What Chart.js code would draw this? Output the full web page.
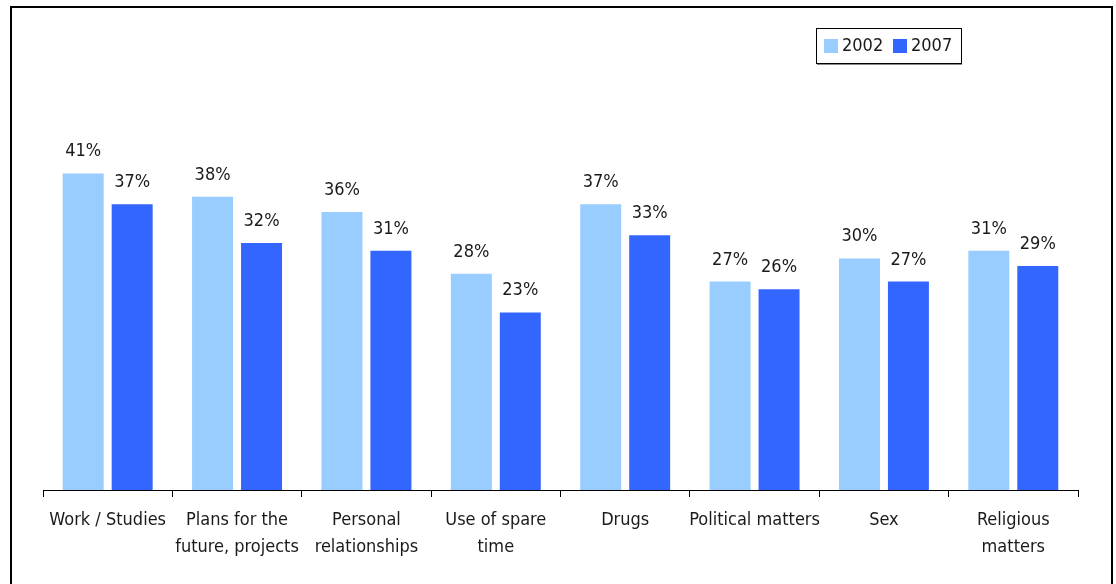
<!DOCTYPE html>
<html>
<head>
<meta charset="utf-8">
<script src="https://cdn.jsdelivr.net/npm/chart.js@4/dist/chart.umd.min.js"></script>
<style>
  html, body { margin: 0; padding: 0; background: #fff; overflow: hidden; }
  #wrap { position: relative; width: 1116px; height: 584px; }
  #frame {
    position: absolute; left: 10px; top: 6px;
    width: 1099px; height: 700px;
    border: 2px solid #000; box-sizing: content-box;
    pointer-events: none;
  }
  canvas { position: absolute; left: 0; top: 0; }
</style>
</head>
<body>
<div id="wrap">
  <canvas id="topicsChart" width="1116" height="584"></canvas>
  <div id="frame"></div>
</div>
<script>
// Topics, one entry per category (lines of the axis label)
const categories = [
    ['Work / Studies'],
    ['Plans for the', 'future, projects'],
    ['Personal', 'relationships'],
    ['Use of spare', 'time'],
    ['Drugs'],
    ['Political matters'],
    ['Sex'],
    ['Religious', 'matters']
];
const years = ['2002', '2007'];
const values2002 = [41, 38, 36, 28, 37, 27, 30, 31];
const values2007 = [37, 32, 31, 23, 33, 26, 27, 29];

const FONT = '"Liberation Sans Narrow", "DejaVu Sans Condensed", "Liberation Sans", sans-serif';
const TEXT = '#1a1a1a';

// percentage labels above each bar
const valueLabels = {
    id: 'valueLabels',
    afterDatasetsDraw(chart) {
        const ctx = chart.ctx;
        ctx.save();
        ctx.font = '18px ' + FONT;
        ctx.fillStyle = TEXT;
        ctx.textAlign = 'center';
        ctx.textBaseline = 'alphabetic';
        chart.data.datasets.forEach((ds, i) => {
            chart.getDatasetMeta(i).data.forEach((bar, j) => {
                ctx.fillText(ds.data[j] + '%', bar.x, bar.y - 17);
            });
        });
        ctx.restore();
    }
};

// boxed legend in the upper right
const boxedLegend = {
    id: 'boxedLegend',
    afterDraw(chart) {
        const ctx = chart.ctx;
        const x0 = 816, y0 = 28, w = 145, h = 35;
        ctx.save();
        ctx.fillStyle = '#fff';
        ctx.fillRect(x0, y0, w, h);
        ctx.strokeStyle = '#000';
        ctx.lineWidth = 1;
        ctx.strokeRect(x0 + 0.5, y0 + 0.5, w, h);
        ctx.strokeStyle = '#888';
        ctx.beginPath();
        ctx.moveTo(x0 + 1, y0 + h + 1.5);
        ctx.lineTo(x0 + w + 1, y0 + h + 1.5);
        ctx.stroke();
        ctx.font = '18px ' + FONT;
        ctx.textBaseline = 'middle';
        ctx.textAlign = 'left';
        let x = x0 + 8;
        chart.data.datasets.forEach(ds => {
            ctx.fillStyle = ds.backgroundColor;
            ctx.fillRect(x, y0 + 11, 14, 14);
            ctx.fillStyle = TEXT;
            ctx.fillText(ds.label, x + 18, y0 + 18);
            x += 69;
        });
        ctx.restore();
    }
};

new Chart(document.getElementById('topicsChart'), {
    type: 'bar',
    data: {
        labels: categories,
        datasets: [
            { label: years[0], data: values2002, backgroundColor: '#99CCFF' },
            { label: years[1], data: values2007, backgroundColor: '#3366FF' }
        ]
    },
    options: {
        responsive: false,
        animation: false,
        layout: { padding: { top: 104, left: 43, right: 38, bottom: 0 } },
        datasets: {
            bar: { categoryPercentage: 0.757, barPercentage: 0.837 }
        },
        plugins: {
            legend: { display: false },
            tooltip: { enabled: false }
        },
        scales: {
            x: {
                border: { display: true, color: '#000', width: 1 },
                grid: {
                    offset: true,
                    drawOnChartArea: false,
                    drawTicks: true,
                    tickLength: 7,
                    color: '#000'
                },
                ticks: {
                    color: TEXT,
                    font: { family: FONT, size: 18, lineHeight: 1.5 },
                    padding: 10,
                    maxRotation: 0,
                    autoSkip: false
                },
                afterFit(scale) { scale.height = 94; }
            },
            y: {
                display: false,
                min: 0,
                max: 50
            }
        }
    },
    plugins: [valueLabels, boxedLegend]
});
</script>
</body>
</html>
